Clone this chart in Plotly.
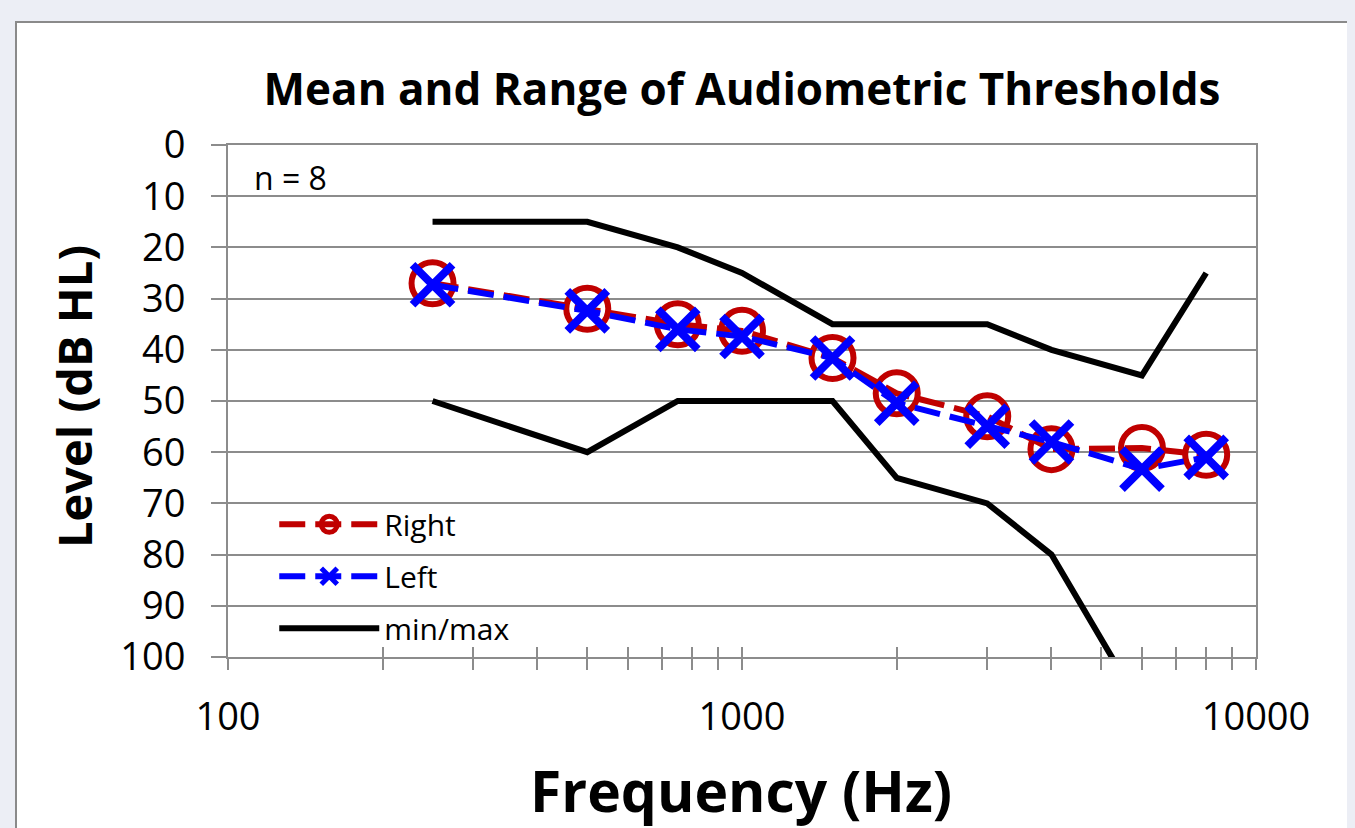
import plotly.graph_objects as go

freqs = [250, 500, 750, 1000, 1500, 2000, 3000, 4000, 6000, 8000]
right_mean = [27, 32, 35, 36.3, 41.6, 48.5, 53, 59.4, 59.2, 60.5]
left_mean = [27.3, 32.4, 36, 37.4, 41.6, 50.4, 54.9, 58, 63.3, 61]
range_max = [15, 15, 20, 25, 35, 35, 35, 40, 45, 25]
range_min = [50, 60, 50, 50, 50, 65, 70, 80, 110, 120]

x_tickvals = [100, 200, 300, 400, 500, 600, 700, 800, 900,
              1000, 2000, 3000, 4000, 5000, 6000, 7000, 8000, 9000, 10000]
x_ticktext = ["100"] + [""] * 8 + ["1000"] + [""] * 8 + ["10000"]
y_tickvals = [0, 10, 20, 30, 40, 50, 60, 70, 80, 90, 100]

FONT = "Open Sans"
GRID = "#8c8c8c"
BG = "#ECEEF5"

# the page body has an 8px margin; figure is sized to fill the rest of the window
OFF = 8
W, H = 1355 - OFF, 828 - OFF

fig = go.Figure()
fig.add_trace(go.Scatter(
    x=freqs, y=right_mean, name="Right", mode="lines+markers", legendgroup="r",
    line=dict(color="#C00000", width=6, dash="26px,10px"),
    marker=dict(symbol="circle-open", size=42, color="#C00000", line=dict(width=6, color="#C00000")),
))
fig.add_trace(go.Scatter(
    x=freqs, y=left_mean, name="Left", mode="lines+markers", legendgroup="l",
    line=dict(color="#0000FF", width=6, dash="26px,10px"),
    marker=dict(symbol="x-thin-open", size=40, color="#0000FF", line=dict(width=8, color="#0000FF")),
))
fig.add_trace(go.Scatter(
    x=freqs, y=range_min, name="min/max", mode="lines",
    line=dict(color="black", width=6), legendgroup="mm",
))
fig.add_trace(go.Scatter(
    x=freqs, y=range_max, name="min/max", mode="lines", xaxis="x2",
    line=dict(color="black", width=6), legendgroup="mm", showlegend=False,
))

xcommon = dict(type="log", range=[2, 4], tickvals=x_tickvals)
fig.update_layout(
    width=W, height=H,
    margin=dict(l=228 - OFF, r=99, t=145 - OFF, b=171),
    paper_bgcolor=BG,
    plot_bgcolor="white",
    font=dict(family=FONT, color="black"),
    title=dict(text="<b>Mean and Range of Audiometric Thresholds</b>",
               font=dict(size=44, family=FONT, color="black"),
               x=0.5, xref="paper", xanchor="center",
               y=1 - (90 - OFF) / H, yref="container", yanchor="middle"),
    xaxis=dict(**xcommon, ticktext=x_ticktext, ticks="outside", ticklen=11, tickwidth=2,
               tickcolor=GRID, showgrid=False, showline=True, linecolor=GRID, linewidth=2,
               mirror=True, tickfont=dict(size=38, family=FONT), ticklabelstandoff=14,
               zeroline=False),
    xaxis2=dict(**xcommon, overlaying="x", anchor="y", side="bottom", ticks="inside",
                ticklen=10, tickwidth=2, tickcolor=GRID, showticklabels=False,
                showgrid=False, showline=False, zeroline=False),
    yaxis=dict(range=[100, 0], tickvals=y_tickvals, ticks="outside", ticklen=15, tickwidth=2,
               tickcolor=GRID, showgrid=True, gridcolor=GRID, gridwidth=2,
               showline=True, linecolor=GRID, linewidth=2, mirror=True,
               tickfont=dict(size=38, family=FONT), ticklabelstandoff=18, zeroline=False),
    legend=dict(x=0.045, y=0.31, xanchor="left", yanchor="top",
                bgcolor="rgba(0,0,0,0)", font=dict(size=30, family=FONT),
                itemwidth=100, tracegroupgap=10, traceorder="grouped"),
    showlegend=True,
    shapes=[dict(type="rect", xref="paper", yref="paper", layer="below",
                 x0=(16 - 228) / 1028, x1=(1365 - 228) / 1028,
                 y0=(657 - 840) / 512, y1=(657 - 22) / 512,
                 fillcolor="white", line=dict(color="#8a8a8a", width=2))],
    annotations=[
        dict(text="n = 8", xref="paper", yref="paper", x=(252 - 228) / 1028,
             y=(657 - 177) / 512, xanchor="left", yanchor="middle", showarrow=False,
             font=dict(size=32, family=FONT)),
        dict(text="<b>Level (dB HL)</b>", xref="paper", yref="paper",
             x=(74 - 228) / 1028, y=(657 - 397) / 512, textangle=-90,
             xanchor="center", yanchor="middle", showarrow=False,
             font=dict(size=47, family=FONT)),
        dict(text="<b>Frequency (Hz)</b>", xref="paper", yref="paper",
             x=(741 - 228) / 1028, y=(657 - 790) / 512,
             xanchor="center", yanchor="middle", showarrow=False,
             font=dict(size=57, family=FONT)),
    ],
)

fig.write_html("out.html", post_script=f"document.body.style.background='{BG}';")
